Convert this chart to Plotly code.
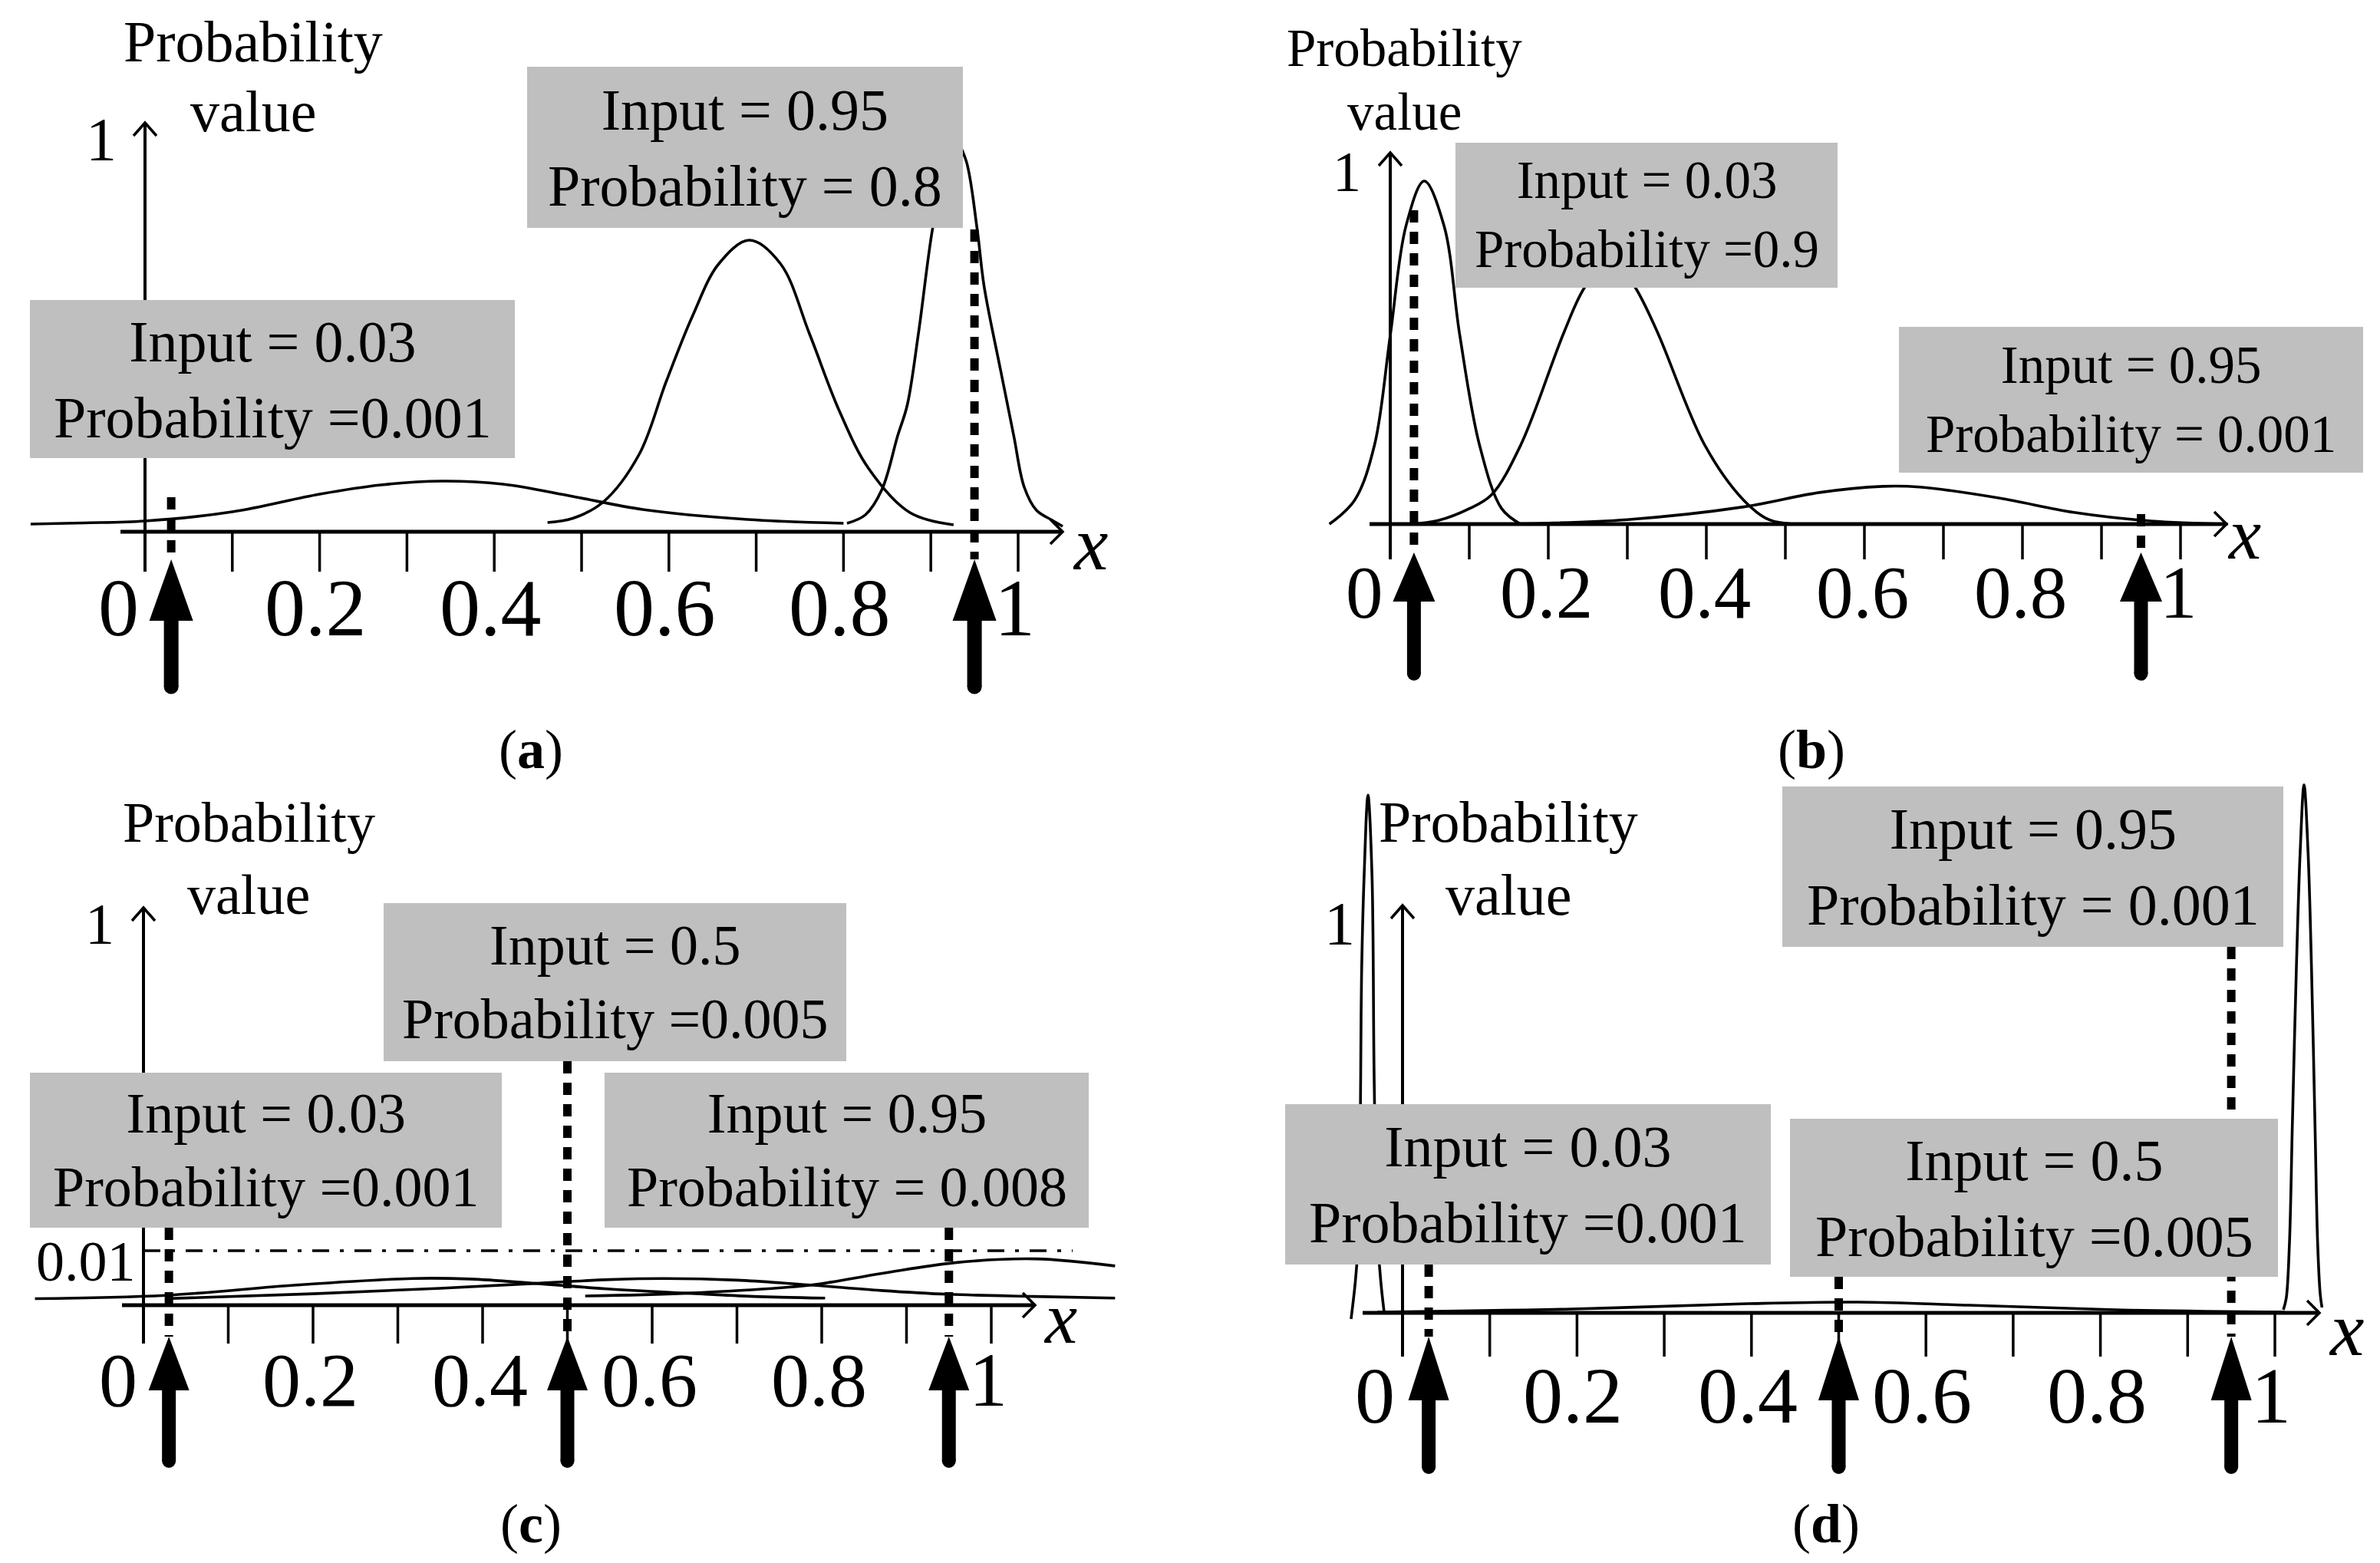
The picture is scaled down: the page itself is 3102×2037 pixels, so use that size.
import plotly.graph_objects as go

W, H = 3102, 2037
FONT = "Liberation Serif"
GRAY = "#BFBFBF"

# ---------------- data ----------------
TICK_VALUES = [0.1, 0.2, 0.3, 0.4, 0.5, 0.6, 0.7, 0.8, 0.9, 1.0]
TICK_LABEL_VALUES = [0, 0.2, 0.4, 0.6, 0.8, 1]
TICK_LABELS = ["0", "0.2", "0.4", "0.6", "0.8", "1"]
TITLE_LINES = ["Probability", "value"]

# panel (a)
A1_X = [-0.131, -0.07, 0.0, 0.1, 0.2, 0.27, 0.34, 0.41, 0.49, 0.57, 0.69, 0.80]
A1_Y = [0.020, 0.023, 0.028, 0.052, 0.098, 0.122, 0.132, 0.124, 0.092, 0.058, 0.032, 0.022]
A2_X = [0.461, 0.49, 0.525, 0.566, 0.597, 0.627, 0.657, 0.692, 0.728, 0.761, 0.795, 0.829, 0.876, 0.926]
A2_Y = [0.024, 0.035, 0.078, 0.202, 0.392, 0.562, 0.698, 0.76, 0.698, 0.516, 0.316, 0.164, 0.05, 0.018]
A3_X = [0.804, 0.825, 0.844, 0.862, 0.873, 0.886, 0.902, 0.915, 0.93, 0.94, 0.953, 0.961, 0.98, 0.995, 1.007, 1.021, 1.039, 1.051]
A3_Y = [0.022, 0.044, 0.11, 0.25, 0.33, 0.52, 0.79, 0.93, 1.01, 0.97, 0.79, 0.64, 0.42, 0.25, 0.116, 0.056, 0.03, 0.014]
A_INPUTS = [0.03, 0.95]
A_TEXTS = ["Input = 0.03<br>Probability =0.001", "Input = 0.95<br>Probability = 0.8"]

# panel (b)
B1_X = [-0.077, -0.045, -0.02, 0.0, 0.02, 0.043, 0.068, 0.088, 0.113, 0.141, 0.165]
B1_Y = [0.0, 0.07, 0.23, 0.55, 0.87, 1.0, 0.87, 0.55, 0.23, 0.045, 0.0]
B2_X = [0.027, 0.06, 0.1, 0.128, 0.165, 0.22, 0.246, 0.28, 0.31, 0.338, 0.398, 0.447, 0.479, 0.51]
B2_Y = [0.0, 0.01, 0.045, 0.085, 0.23, 0.56, 0.69, 0.78, 0.69, 0.56, 0.23, 0.07, 0.013, 0.0]
B3_X = [0.15, 0.30, 0.447, 0.543, 0.623, 0.67, 0.77, 0.865, 0.962, 1.06]
B3_Y = [0.0, 0.013, 0.05, 0.092, 0.11, 0.108, 0.076, 0.034, 0.009, 0.0]
B_INPUTS = [0.03, 0.95]
B_TEXTS = ["Input = 0.03<br>Probability =0.9", "Input = 0.95<br>Probability = 0.001"]

# panel (c)  (curves drawn in the magnified 0-0.01 band)
C1_X = [-0.128, 0.026, 0.18, 0.317, 0.385, 0.462, 0.547, 0.642, 0.72, 0.804]
C1_Y = [0.0012, 0.0018, 0.0037, 0.0049, 0.0048, 0.0040, 0.0030, 0.0022, 0.0016, 0.0013]
C2_X = [0.026, 0.2, 0.35, 0.462, 0.55, 0.615, 0.70, 0.787, 0.87, 0.949, 1.05, 1.146]
C2_Y = [0.0012, 0.0021, 0.0031, 0.0040, 0.0047, 0.0049, 0.0046, 0.0037, 0.0027, 0.0020, 0.0016, 0.0013]
C3_X = [0.521, 0.642, 0.787, 0.87, 0.957, 1.052, 1.146]
C3_Y = [0.0017, 0.0022, 0.0037, 0.0058, 0.0078, 0.0085, 0.0072]
C_LEVEL = 0.01
C_INPUTS = [0.03, 0.5, 0.95]
C_TEXTS = ["Input = 0.03<br>Probability =0.001", "Input = 0.5<br>Probability =0.005",
           "Input = 0.95<br>Probability = 0.008"]

# panel (d)
D1_X = [-0.059, -0.054, -0.05, -0.048, -0.047, -0.044, -0.0396, -0.035, -0.0325, -0.029, -0.025, -0.021]
D1_Y = [-0.016, 0.084, 0.217, 0.61, 0.876, 1.145, 1.355, 1.145, 0.61, 0.217, 0.084, 0.0]
D2_X = [-0.029, 0.194, 0.396, 0.522, 0.649, 0.817, 1.011]
D2_Y = [0.002, 0.01, 0.024, 0.028, 0.02, 0.008, 0.002]
D3_X = [1.0097, 1.013, 1.0167, 1.020, 1.0246, 1.029, 1.0334, 1.038, 1.042, 1.046, 1.049, 1.052, 1.054]
D3_Y = [0.008, 0.038, 0.183, 0.49, 0.90, 1.207, 1.382, 1.207, 0.90, 0.49, 0.183, 0.048, 0.014]
D_INPUTS = [0.03, 0.5, 0.95]
D_TEXTS = ["Input = 0.03<br>Probability =0.001", "Input = 0.5<br>Probability =0.005",
           "Input = 0.95<br>Probability = 0.001"]

# ---------------- layout (pixel geometry) ----------------
PANELS = [
    dict(px0=181, s=1138, y0=685, hs=500, xdom=(0, 1590), ydom=(0, 1008),
         xaxis_px=(149, 1377), yaxis_top=152, tick_len=52,
         arrow=(36, 80, 166, 57, 19),
         curves=[(A1_X, A1_Y), (A2_X, A2_Y), (A3_X, A3_Y)],
         inputs=A_INPUTS, dot_tops=[640, 291],
         boxes=[(31, 383, 663, 589), (679, 79, 1247, 289)], texts=A_TEXTS, box_font=76,
         title_x=322, title_tops=(2, 93), title_font=76, one_xy=(124, 174), one_font=80,
         tick_font=106, tick_cy=784, tick_shift=-5, zero_shift=-35,
         x_xy=(1413, 700), x_font=100, caption="a", cap_xy=(684, 969)),
    dict(px0=1804, s=1030, y0=675, hs=447, xdom=(1590, 3102), ydom=(0, 1008),
         xaxis_px=(1777, 2894), yaxis_top=191, tick_len=46,
         arrow=(37, 64, 158, 55, 18),
         curves=[(B1_X, B1_Y), (B2_X, B2_Y), (B3_X, B3_Y)],
         inputs=B_INPUTS, dot_tops=[266, 662],
         boxes=[(1889, 178, 2387, 367), (2467, 418, 3072, 608)], texts=B_TEXTS, box_font=69,
         title_x=1822, title_tops=(15, 98), title_font=69, one_xy=(1748, 216), one_font=74,
         tick_font=97, tick_cy=764, tick_shift=-3, zero_shift=-34,
         x_xy=(2917, 688), x_font=95, caption="b", cap_xy=(2353, 969)),
    dict(px0=179, s=1105, y0=1693, hs=7100, xdom=(0, 1590), ydom=(1008, 2037),
         xaxis_px=(151, 1341), yaxis_top=1175, tick_len=50,
         arrow=(41, 70, 162, 53, 18),
         curves=[(C1_X, C1_Y), (C2_X, C2_Y), (C3_X, C3_Y)],
         inputs=C_INPUTS, dot_tops=[1592, 1375, 1592],
         boxes=[(31, 1390, 646, 1592), (492, 1169, 1095, 1375), (780, 1390, 1411, 1592)],
         texts=C_TEXTS, box_font=74,
         title_x=316, title_tops=(1021, 1115), title_font=74, one_xy=(122, 1196), one_font=76,
         tick_font=100, tick_cy=1790, tick_shift=-4, zero_shift=-33,
         x_xy=(1374, 1710), x_font=95, caption="c", cap_xy=(684, 1978)),
    dict(px0=1820, s=1137, y0=1703, hs=498, xdom=(1590, 3102), ydom=(1008, 2037),
         xaxis_px=(1768, 3015), yaxis_top=1172, tick_len=57,
         arrow=(31, 83, 170, 53, 18),
         curves=[(D1_X, D1_Y), (D2_X, D2_Y), (D3_X, D3_Y)],
         inputs=D_INPUTS, dot_tops=[1640, 1656, 1226],
         boxes=[(1667, 1431, 2300, 1640), (2325, 1450, 2961, 1656), (2315, 1017, 2968, 1226)],
         texts=D_TEXTS, box_font=76,
         title_x=1958, title_tops=(1019, 1114), title_font=76, one_xy=(1738, 1196), one_font=80,
         tick_font=104, tick_cy=1810, tick_shift=-5, zero_shift=-36,
         x_xy=(3050, 1724), x_font=100, caption="d", cap_xy=(2372, 1978)),
]


def paper(px, py):
    return px / W, 1 - py / H


fig = go.Figure()
shapes, annotations = [], []
layout_axes = {}

for i, p in enumerate(PANELS):
    n = "" if i == 0 else str(i + 1)
    xa, ya = "x" + n, "y" + n

    def X(px, p=p):
        return (px - p["px0"]) / p["s"]

    def Y(py, p=p):
        return (p["y0"] - py) / p["hs"]

    def dx(d, p=p):
        return d / p["s"]

    def dy(d, p=p):
        return d / p["hs"]

    layout_axes["xaxis" + n] = dict(
        domain=[p["xdom"][0] / W, p["xdom"][1] / W],
        range=[X(p["xdom"][0]), X(p["xdom"][1])],
        visible=False, anchor=ya, fixedrange=True)
    layout_axes["yaxis" + n] = dict(
        domain=[1 - p["ydom"][1] / H, 1 - p["ydom"][0] / H],
        range=[Y(p["ydom"][1]), Y(p["ydom"][0])],
        visible=False, anchor=xa, fixedrange=True)

    # curves
    for cx, cy in p["curves"]:
        fig.add_trace(go.Scatter(x=cx, y=cy, mode="lines", xaxis=xa, yaxis=ya,
                                 line=dict(color="black", width=3.6, shape="spline", smoothing=1.0),
                                 hoverinfo="skip", showlegend=False))
    # tick marks
    tx, ty = [], []
    for t in TICK_VALUES:
        tx += [t, t, None]
        ty += [0, -dy(p["tick_len"]), None]
    fig.add_trace(go.Scatter(x=tx, y=ty, mode="lines", xaxis=xa, yaxis=ya,
                             line=dict(color="black", width=3.5),
                             hoverinfo="skip", showlegend=False))

    # x axis with open arrow head
    xe = p["xaxis_px"][1]
    shapes.append(dict(type="line", xref=xa, yref=ya, x0=X(p["xaxis_px"][0]), x1=X(xe),
                       y0=0, y1=0, line=dict(color="black", width=5), layer="above"))
    shapes.append(dict(type="path", xref=xa, yref=ya,
                       path=f"M {X(xe - 16)},{dy(16)} L {X(xe)},0 L {X(xe - 16)},{-dy(16)}",
                       line=dict(color="black", width=3.5), layer="above"))
    # y axis with open arrow head
    yt = p["yaxis_top"]
    shapes.append(dict(type="line", xref=xa, yref=ya, x0=0, x1=0,
                       y0=-dy(p["tick_len"]), y1=Y(yt),
                       line=dict(color="black", width=4), layer="above"))
    shapes.append(dict(type="path", xref=xa, yref=ya,
                       path=f"M {-dx(15)},{Y(yt + 17)} L 0,{Y(yt)} L {dx(15)},{Y(yt + 17)}",
                       line=dict(color="black", width=3.5), layer="above"))

    tip, head, total, hw, sw = p["arrow"]
    # dotted guide lines
    for v, top in zip(p["inputs"], p["dot_tops"]):
        shapes.append(dict(type="line", xref=xa, yref=ya, x0=v, x1=v, y0=Y(top), y1=-dy(tip),
                           line=dict(color="black", width=11, dash="16px,12px"), layer="above"))
    # grey boxes
    for (bx0, by0, bx1, by1) in p["boxes"]:
        px0_, py0_ = paper(bx0, by0)
        px1_, py1_ = paper(bx1, by1)
        shapes.append(dict(type="rect", xref="paper", yref="paper", x0=px0_, x1=px1_,
                           y0=py1_, y1=py0_, fillcolor=GRAY, line=dict(width=0), layer="above"))
    # thick input arrows
    for v in p["inputs"]:
        y_t = -dy(tip)
        y_b = -dy(tip + head)
        y_e = -dy(tip + total)
        h2, s2 = dx(hw / 2), dx(sw / 2)
        shapes.append(dict(type="path", xref=xa, yref=ya, fillcolor="black",
                           line=dict(width=0), layer="above",
                           path=(f"M {v},{y_t} L {v + h2},{y_b} L {v + s2},{y_b} L {v + s2},{y_e} "
                                 f"L {v - s2},{y_e} L {v - s2},{y_b} L {v - h2},{y_b} Z")))
        shapes.append(dict(type="circle", xref=xa, yref=ya, fillcolor="black",
                           line=dict(width=0), layer="above",
                           x0=v - s2, x1=v + s2, y0=y_e - dy(sw / 2), y1=y_e + dy(sw / 2)))

    # box texts
    for (bx0, by0, bx1, by1), txt in zip(p["boxes"], p["texts"]):
        ax_, ay_ = paper((bx0 + bx1) / 2, (by0 + by1) / 2)
        annotations.append(dict(xref="paper", yref="paper", x=ax_, y=ay_, text=txt,
                                showarrow=False, xanchor="center", yanchor="middle",
                                font=dict(family=FONT, size=p["box_font"], color="black")))
    # axis title (two lines, each placed by its top edge)
    for line_txt, top in zip(TITLE_LINES, p["title_tops"]):
        ax_, ay_ = paper(p["title_x"], top)
        annotations.append(dict(xref="paper", yref="paper", x=ax_, y=ay_, text=line_txt,
                                showarrow=False, xanchor="center", yanchor="top",
                                font=dict(family=FONT, size=p["title_font"], color="black")))
    # "1" on y axis
    ax_, ay_ = paper(*p["one_xy"])
    annotations.append(dict(xref="paper", yref="paper", x=ax_, y=ay_, text="1",
                            showarrow=False, xanchor="center", yanchor="middle",
                            font=dict(family=FONT, size=p["one_font"], color="black")))
    # tick labels
    for v, lab in zip(TICK_LABEL_VALUES, TICK_LABELS):
        annotations.append(dict(xref=xa, yref=ya, x=v, y=Y(p["tick_cy"]), text=lab,
                                showarrow=False, xanchor="center", yanchor="middle",
                                xshift=p["zero_shift"] if v == 0 else p["tick_shift"],
                                font=dict(family=FONT, size=p["tick_font"], color="black")))
    # x label
    ax_, ay_ = paper(*p["x_xy"])
    annotations.append(dict(xref="paper", yref="paper", x=ax_, y=ay_, text="<i>x</i>",
                            showarrow=False, xanchor="center", yanchor="middle",
                            font=dict(family=FONT, size=p["x_font"], color="black")))
    # caption
    ax_, ay_ = paper(*p["cap_xy"])
    annotations.append(dict(xref="paper", yref="paper", x=ax_, y=ay_,
                            text=f"(<b>{p['caption']}</b>)",
                            showarrow=False, xanchor="center", yanchor="middle",
                            font=dict(family=FONT, size=72, color="black")))

    # panel (c): magnified 0.01 reference level
    if p["caption"] == "c":
        shapes.append(dict(type="line", xref=xa, yref=ya, x0=0, x1=X(1390),
                           y0=C_LEVEL, y1=C_LEVEL,
                           line=dict(color="black", width=3.5, dash="22px,14px,5px,14px"),
                           layer="above"))
        ax_, ay_ = paper(104, 1636)
        annotations.append(dict(xref="paper", yref="paper", x=ax_, y=ay_, text="0.01",
                                showarrow=False, xanchor="center", yanchor="middle",
                                font=dict(family=FONT, size=74, color="black")))

fig.update_layout(
    width=W, height=H, margin=dict(l=0, r=0, t=0, b=0),
    paper_bgcolor="white", plot_bgcolor="rgba(0,0,0,0)",
    font=dict(family=FONT, color="black"),
    shapes=shapes, annotations=annotations, showlegend=False,
    **layout_axes,
)

fig.write_html("out.html")
